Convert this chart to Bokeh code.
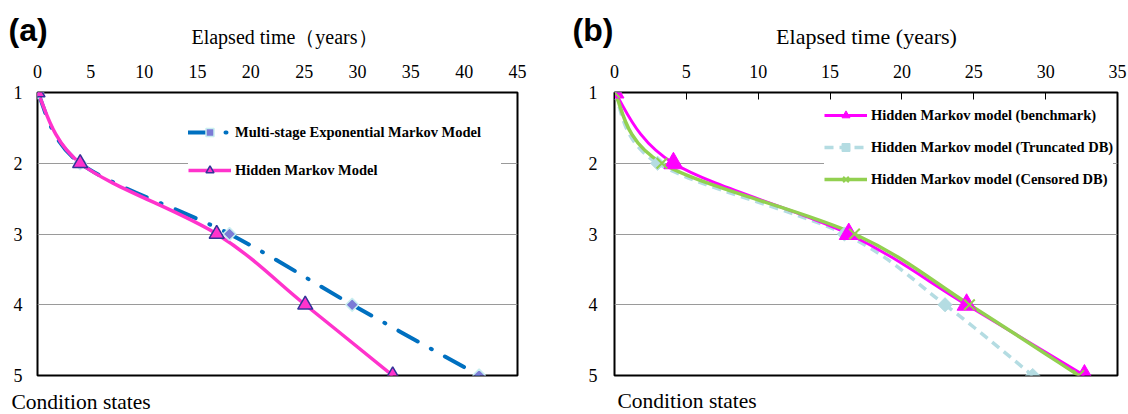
import math
from bokeh.plotting import figure
from bokeh.models import Range1d, FixedTicker, Label, Legend, LegendItem, ColumnDataSource
from bokeh.layouts import row, column
from bokeh.embed import file_html
from bokeh.resources import INLINE

# ---------------- data ----------------
states = [1, 2, 3, 4, 5]
xticks_a = [0, 5, 10, 15, 20, 25, 30, 35, 40, 45]
xticks_b = [0, 5, 10, 15, 20, 25, 30, 35]

# panel (a): elapsed years to reach each condition state
mem_a = [0.0, 4.0, 18.0, 29.5, 41.4]      # Multi-stage Exponential Markov Model
hmm_a = [0.0, 4.0, 16.8, 25.1, 33.3]      # Hidden Markov Model

# panel (b)
bench_b = [0.0, 4.1, 16.3, 24.5, 32.7]    # benchmark
trunc_b = [0.0, 3.0, 16.0, 23.0, 29.1]    # Truncated DB
cens_b = [0.0, 3.3, 16.7, 24.7, 32.3]     # Censored DB

label_a = "Elapsed time\uff08years\uff09"
label_b = "Elapsed time (years)"
ylabel = "Condition states"
SERIF = "Liberation Serif"
SANS = "Liberation Sans"
TOTAL_W = 1127


def smooth(xs, ys):
    """Bezier control points (Catmull-Rom style, as a smoothed spreadsheet line)."""
    n = len(xs)
    d = dict(x0=[], y0=[], x1=[], y1=[], cx0=[], cy0=[], cx1=[], cy1=[])
    for i in range(n - 1):
        a = max(i - 1, 0)
        b = min(i + 2, n - 1)
        d["x0"].append(xs[i]); d["y0"].append(ys[i])
        d["x1"].append(xs[i + 1]); d["y1"].append(ys[i + 1])
        d["cx0"].append(xs[i] + (xs[i + 1] - xs[a]) / 6.0)
        d["cy0"].append(ys[i] + (ys[i + 1] - ys[a]) / 6.0)
        d["cx1"].append(xs[i + 1] - (xs[b] - xs[i]) / 6.0)
        d["cy1"].append(ys[i + 1] - (ys[b] - ys[i]) / 6.0)
    return ColumnDataSource(d)


def strip(height):
    s = figure(width=TOTAL_W, height=height, x_range=Range1d(0, 1), y_range=Range1d(0, 1),
               x_axis_location=None, y_axis_location=None, output_backend="svg",
               toolbar_location=None, min_border=0)
    s.outline_line_color = None
    s.grid.grid_line_color = None
    s.background_fill_color = "white"
    s.border_fill_color = "white"
    return s


def make_fig(width, xmax, xticks, bl, br, tick_in):
    p = figure(width=width, height=337, x_range=Range1d(0, xmax), y_range=Range1d(5, 1),
               x_axis_location="above", output_backend="svg", toolbar_location=None,
               min_border_left=bl, min_border_right=br, min_border_top=42, min_border_bottom=12)
    p.outline_line_color = "black"
    p.outline_line_width = 2
    p.background_fill_color = "white"
    p.border_fill_color = "white"
    xa = p.xaxis[0]
    xa.ticker = FixedTicker(ticks=xticks)
    xa.axis_line_color = None
    xa.major_tick_out = 0
    xa.major_tick_in = tick_in
    xa.major_tick_line_color = "black" if tick_in else None
    xa.major_tick_line_width = 1
    xa.minor_tick_line_color = None
    xa.minor_tick_out = 0
    xa.minor_tick_in = 0
    xa.major_label_text_font = SERIF
    xa.major_label_text_font_size = "18px"
    xa.major_label_text_color = "black"
    xa.major_label_standoff = 15
    ya = p.yaxis[0]
    ya.ticker = FixedTicker(ticks=states)
    ya.axis_line_color = None
    ya.major_tick_line_color = None
    ya.major_tick_out = 0
    ya.major_tick_in = 0
    ya.minor_tick_line_color = None
    ya.minor_tick_out = 0
    ya.major_label_text_font = SERIF
    ya.major_label_text_font_size = "18px"
    ya.major_label_text_color = "black"
    ya.major_label_standoff = 15
    p.xgrid.grid_line_color = None
    p.ygrid.ticker = FixedTicker(ticks=states)
    p.ygrid.grid_line_color = "#9a9a9a"
    p.ygrid.grid_line_width = 1
    return p


# ---------------- top strip: panel letters and axis titles ----------------
top = strip(50)
for txt, x in (("(a)", 8), ("(b)", 572)):
    top.add_layout(Label(x=x, y=21, x_units="screen", y_units="screen", text=txt,
                         text_font=SANS, text_font_style="bold", text_font_size="32px",
                         text_baseline="middle", text_color="black"))
top.add_layout(Label(x=284, y=14, x_units="screen", y_units="screen", text=label_a,
                     text_font=SERIF, text_font_size="20px", text_align="center",
                     text_baseline="middle", text_color="black"))
top.add_layout(Label(x=866, y=14, x_units="screen", y_units="screen", text=label_b,
                     text_font=SERIF, text_font_size="22px", text_align="center",
                     text_baseline="middle", text_color="black"))

# ---------------- panel (a) ----------------
pa = make_fig(574, 45, xticks_a, 37, 57, 0)

r_mem_l = pa.bezier(x0="x0", y0="y0", x1="x1", y1="y1", cx0="cx0", cy0="cy0", cx1="cx1", cy1="cy1",
                    source=smooth(mem_a, states), line_color="#0070C0", line_width=4,
                    line_dash="22 15 1 15", line_cap="round")
r_hmm_l = pa.bezier(x0="x0", y0="y0", x1="x1", y1="y1", cx0="cx0", cy0="cy0", cx1="cx1", cy1="cy1",
                    source=smooth(hmm_a, states), line_color="#FF33CC", line_width=3.5)
r_mem_p = pa.scatter(mem_a, states, marker="square", angle=math.pi / 4, size=9,
                     fill_color="#7B7BD6", line_color="#C8EEF0", line_width=1.5)
r_hmm_p = pa.scatter(hmm_a, states, marker="triangle", size=15, fill_color="#FF33CC",
                     line_color="#333399", line_width=1.5)

leg_a = Legend(items=[LegendItem(label="Multi-stage Exponential Markov Model", renderers=[r_mem_l, r_mem_p]),
                      LegendItem(label="Hidden Markov Model", renderers=[r_hmm_l, r_hmm_p])],
               location=(151, 195), orientation="vertical", glyph_width=43, glyph_height=20,
               label_standoff=4, label_width=266, label_height=20, spacing=18, padding=12, margin=0,
               border_line_color=None, background_fill_color="white", background_fill_alpha=1.0,
               label_text_font=SERIF, label_text_font_style="bold", label_text_font_size="14.5px",
               label_text_color="black")
pa.add_layout(leg_a)

# ---------------- panel (b) ----------------
pb = make_fig(TOTAL_W - 574, 35, xticks_b, 40, 10, 7)
pb.yaxis[0].major_label_standoff = 17

r_tr_l = pb.bezier(x0="x0", y0="y0", x1="x1", y1="y1", cx0="cx0", cy0="cy0", cx1="cx1", cy1="cy1",
                   source=smooth(trunc_b, states), line_color="#B4DCE2", line_width=3.5,
                   line_dash="9 6")
r_be_l = pb.bezier(x0="x0", y0="y0", x1="x1", y1="y1", cx0="cx0", cy0="cy0", cx1="cx1", cy1="cy1",
                   source=smooth(bench_b, states), line_color="#FF00FF", line_width=3)
r_ce_l = pb.bezier(x0="x0", y0="y0", x1="x1", y1="y1", cx0="cx0", cy0="cy0", cx1="cx1", cy1="cy1",
                   source=smooth(cens_b, states), line_color="#92D050", line_width=3.5)
r_tr_p = pb.scatter(trunc_b, states, marker="square", angle=math.pi / 4, size=10,
                    fill_color="#B4DCE2", line_color="#B4DCE2")
r_be_p = pb.scatter(bench_b, states, marker="triangle", size=19, fill_color="#FF00FF",
                    line_color="#FF00FF")
r_ce_p = pb.scatter(cens_b, states, marker="x", size=15, line_color="#92D050", line_width=2)

leg_b = Legend(items=[LegendItem(label="Hidden Markov model (benchmark)", renderers=[r_be_l, r_be_p]),
                      LegendItem(label="Hidden Markov model (Truncated DB)", renderers=[r_tr_l, r_tr_p]),
                      LegendItem(label="Hidden Markov model (Censored DB)", renderers=[r_ce_l, r_ce_p])],
               location=(210, 186), orientation="vertical", glyph_width=43, glyph_height=20,
               label_standoff=4, label_height=20, spacing=12, padding=7, margin=0,
               border_line_color=None, background_fill_color="white", background_fill_alpha=1.0,
               label_text_font=SERIF, label_text_font_style="bold", label_text_font_size="14.5px",
               label_text_color="black")
pb.add_layout(leg_b)

# ---------------- bottom strip: y-axis captions ----------------
bottom = strip(25)
bottom.add_layout(Label(x=11, y=11, x_units="screen", y_units="screen", text=ylabel,
                        text_font=SERIF, text_font_size="21.5px", text_baseline="alphabetic",
                        text_color="black"))
bottom.add_layout(Label(x=617, y=12, x_units="screen", y_units="screen", text=ylabel,
                        text_font=SERIF, text_font_size="21.5px", text_baseline="alphabetic",
                        text_color="black"))

layout = column(top, row(pa, pb, spacing=0), bottom, spacing=0)
open("out.html", "w").write(file_html(layout, INLINE))
